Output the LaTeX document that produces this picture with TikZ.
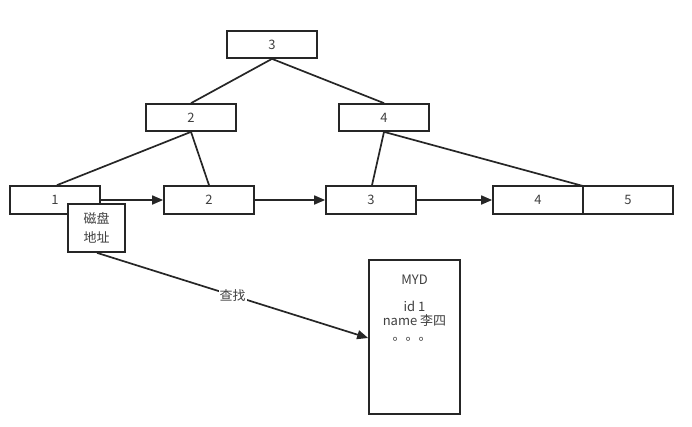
\documentclass[tikz,border=0pt]{standalone}
\usepackage{fontspec}
\setmainfont{Noto Sans CJK SC}
\usetikzlibrary{arrows.meta}
\begin{document}
\begin{tikzpicture}[x=1pt,y=-1pt,
  box/.style={draw=black!85,line width=1.7pt,fill=white,minimum width=90pt,minimum height=27pt,inner sep=0pt,font=\fontsize{13}{15}\selectfont,text=black!75},
  edge/.style={draw=black!85,line width=1.7pt},
  arr/.style={edge,-{Triangle[length=11pt,width=9pt]}},
  txt/.style={inner sep=0pt,font=\fontsize{13}{15}\selectfont,text=black!75}]
\useasboundingbox (0,0) rectangle (692,426);
\node[box] (r) at (272,44.5) {3};
\node[box] (a) at (191,117.5) {2};
\node[box] (b) at (384,117.5) {4};
\node[box,minimum height=28pt] (l1) at (55,200) {1};
\node[box,minimum height=28pt] (l2) at (209,200) {2};
\node[box,minimum height=28pt] (l3) at (371,200) {3};
\node[box,minimum height=28pt] (l4) at (538,200) {4};
\node[box,minimum height=28pt] (l5) at (628,200) {5};
\node[box,minimum width=57pt,minimum height=48pt,align=center,font=\fontsize{13}{19}\selectfont] (d) at (96.5,228) {磁盘\\地址};
\node[box,minimum width=91pt,minimum height=154pt] (m) at (414.5,337) {};
\node[txt] (m1) at (414.5,280) {MYD};
\node[txt] (m2) at (414.5,306) {id 1};
\node[txt] (m3) at (414.5,321) {name 李四};
\node[txt] (m4) at (412,339) {。。。};
\coordinate (j45) at (583,186);
\draw[edge] (r.south) -- (a.north);
\draw[edge] (r.south) -- (b.north);
\draw[edge] (a.south) -- ([xshift=2pt]l1.north);
\draw[edge] (a.south) -- (l2.north);
\draw[edge] (b.south) -- ([xshift=1pt]l3.north);
\draw[edge] (b.south) -- (j45);
\draw[arr] (l1.east) -- (l2.west);
\draw[arr] (l2.east) -- (l3.west);
\draw[arr] (l3.east) -- (l4.west);
\draw[arr] ([xshift=0.5pt]d.south) -- node[fill=white,inner sep=1pt,font=\fontsize{13}{15}\selectfont,text=black!75] (lab) {查找} ([yshift=-1pt]m.west);
\end{tikzpicture}
\end{document}
